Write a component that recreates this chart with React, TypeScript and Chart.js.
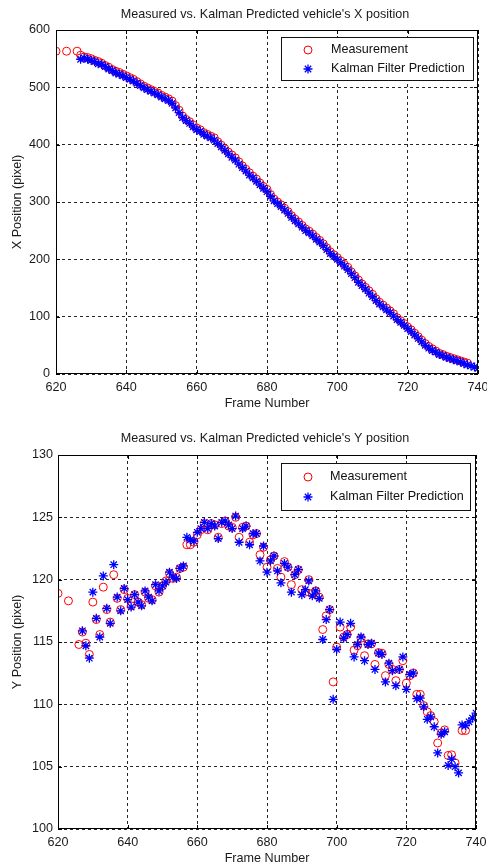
import React, { useEffect, useRef } from 'react';
import { Chart, registerables } from 'chart.js';
Chart.register(...registerables);

const FONT = '"Liberation Sans", Arial, Helvetica, sans-serif';
const FS = 12.6;

// Frame numbers (x axis)
const frames = [
  620, 623, 626,
  627, 628, 629, 630, 631, 632, 633, 634, 635, 636,
  637, 638, 639, 640, 641, 642, 643, 644, 645, 646,
  647, 648, 649, 650, 651, 652, 653, 654, 655, 656,
  657, 658, 659, 660, 661, 662, 663, 664, 665, 666,
  667, 668, 669, 670, 671, 672, 673, 674, 675, 676,
  677, 678, 679, 680, 681, 682, 683, 684, 685, 686,
  687, 688, 689, 690, 691, 692, 693, 694, 695, 696,
  697, 698, 699, 700, 701, 702, 703, 704, 705, 706,
  707, 708, 709, 710, 711, 712, 713, 714, 715, 716,
  717, 718, 719, 720, 721, 722, 723, 724, 725, 726,
  727, 728, 729, 730, 731, 732, 733, 734, 735, 736,
  737, 738, 739, 740,
];

// X position (pixel)
const measuredX = [
  563, 563, 563,
  556, 553, 552, 550, 547, 545, 542, 538, 535, 531,
  528, 526, 523, 520, 517, 514, 510, 506, 502, 499,
  496, 493, 490, 486, 483, 480, 476, 468, 460, 450,
  444, 440, 434, 429, 426, 421, 418, 415, 412, 405,
  399, 393, 387, 382, 377, 370, 363, 357, 351, 345,
  340, 333, 327, 322, 313, 305, 300, 295, 289, 283,
  276, 270, 265, 259, 253, 249, 244, 238, 233, 227,
  220, 213, 208, 203, 197, 191, 186, 178, 171, 164,
  157, 151, 145, 139, 131, 125, 120, 115, 110, 105,
  98, 93, 88, 82, 77, 71, 65, 59, 53, 48,
  44, 40, 36, 34, 31, 29, 27, 25, 23, 21,
  19, null, null, null,
];
const kalmanX = [
  null, null, null,
  549, 551, 549, 547, 545, 541, 540, 536, 532, 529,
  525, 523, 520, 517, 514, 511, 507, 503, 499, 496,
  493, 490, 487, 483, 480, 477, 472, 464, 456, 447,
  442, 437, 431, 426, 423, 418, 415, 412, 408, 402,
  396, 390, 384, 378, 373, 366, 360, 354, 347, 342,
  336, 330, 324, 318, 310, 302, 297, 292, 286, 280,
  273, 267, 262, 256, 250, 246, 241, 235, 230, 224,
  217, 210, 205, 200, 194, 188, 182, 175, 168, 160,
  154, 148, 141, 135, 128, 122, 117, 112, 107, 101,
  95, 90, 85, 79, 74, 68, 62, 56, 50, 45,
  41, 38, 34, 32, 29, 27, 25, 23, 21, 18,
  16, 14, 12, 10,
];

// Y position (pixel)
const measuredY = [
  118.9, 118.3, 114.8,
  115.8, 114.9, 114.0, 118.2, 116.8, 115.6, 119.4, 117.6, 116.6, 120.4,
  118.5, 117.6, 119.2, 118.5, 117.9, 118.8, 118.2, 118.0, 119.0, 118.5,
  118.4, 119.5, 119.0, 119.5, 119.9, 120.5, 120.1, 120.2, 120.9, 121.0,
  122.8, 122.8, 123.0, 123.6, 124.0, 124.5, 124.0, 124.5, 124.4, 123.4,
  124.5, 124.7, 124.3, 124.2, 125.0, 123.4, 124.2, 124.3, 123.0, 123.6,
  123.7, 122.0, 122.6, 121.0, 121.6, 121.9, 120.9, 120.2, 121.45, 121.0,
  119.6, 120.4, 120.8, 119.2, 119.0, 120.0, 118.9, 119.1, 118.6, 116.0,
  117.1, 117.6, 111.8, 114.6, 116.2, 115.4, 115.6, 116.2, 114.35, 114.7,
  115.3, 113.9, 114.85, 114.85, 113.2, 114.15, 114.1, 112.3, 113.2, 112.8,
  111.9, 112.8, 113.5, 111.7, 112.3, 112.5, 110.8, 110.8, 109.9, 109.4,
  109.1, 108.6, 106.9, 107.7, 107.95, 105.9, 105.95, 105.3, null, 107.9,
  107.9, null, null, null,
];
const kalmanY = [
  null, null, null,
  115.9, 114.7, 113.7, 119.0, 116.9, 115.4, 120.3, 117.7, 116.5, 121.2,
  118.6, 117.5, 119.3, 118.4, 117.8, 118.8, 118.2, 117.9, 119.1, 118.6,
  118.3, 119.6, 119.1, 119.5, 119.8, 120.6, 120.2, 120.1, 120.9, 121.1,
  123.4, 123.2, 123.1, 123.8, 124.1, 124.6, 124.1, 124.5, 124.3, 123.3,
  124.6, 124.7, 124.4, 124.1, 125.1, 123.0, 124.1, 124.3, 122.8, 123.7,
  123.7, 121.5, 122.7, 120.6, 121.5, 121.9, 120.7, 119.75, 121.3, 121.0,
  119.0, 120.4, 120.8, 118.8, 119.2, 119.9, 118.7, 119.1, 118.5, 115.2,
  116.8, 117.6, 110.4, 114.4, 116.6, 115.3, 115.6, 116.5, 113.8, 114.8,
  115.4, 113.5, 114.8, 114.9, 112.8, 114.1, 114.0, 111.8, 113.3, 112.7,
  111.5, 112.8, 113.8, 111.2, 112.4, 112.5, 110.45, 110.5, 109.8, 108.8,
  109.0, 108.2, 106.1, 107.6, 107.8, 105.1, 105.6, 105.0, 104.5, 108.35,
  108.3, 108.6, 108.9, 109.3,
];

const xMin = 620, xMax = 740, xStep = 20;
const legendLabels = ['Measurement', 'Kalman Filter Prediction'];
const xAxisLabel = 'Frame Number';

function toPoints(values: (number | null)[]) {
  const out: { x: number; y: number }[] = [];
  frames.forEach((f, i) => {
    const v = values[i];
    if (v !== null && v !== undefined) out.push({ x: f, y: v });
  });
  return out;
}

function drawStar(ctx: CanvasRenderingContext2D, x: number, y: number, r: number) {
  ctx.beginPath();
  ctx.moveTo(x - r, y); ctx.lineTo(x + r, y);
  ctx.moveTo(x, y - r); ctx.lineTo(x, y + r);
  const d = r * 0.7071;
  ctx.moveTo(x - d, y - d); ctx.lineTo(x + d, y + d);
  ctx.moveTo(x - d, y + d); ctx.lineTo(x + d, y - d);
  ctx.stroke();
}

type Cfg = {
  height: number;
  title: string;
  titleY: number;
  yLabel: string;
  yMin: number;
  yMax: number;
  yStep: number;
  meas: (number | null)[];
  kal: (number | null)[];
  padTop: number;
  padRight: number;
  yAxisWidth: number;
  xAxisHeight: number;
  xTitlePadBottom: number;
  xTickPad: number;
  yTickPad: number;
  legend: { dx: number; dy: number; w: number; h: number; r1: number; r2: number; mx: number; tx: number };
};

function MatlabChart({ cfg }: { cfg: Cfg }) {
  const ref = useRef<HTMLCanvasElement>(null);
  useEffect(() => {
    const canvas = ref.current!;
    const framePlugin = {
      id: 'mlFrame',
      afterDraw(chart: any) {
        const { ctx, chartArea: a } = chart;
        const xs = chart.scales.x, ys = chart.scales.y;
        ctx.save();
        ctx.strokeStyle = '#000';
        ctx.lineWidth = 1;
        ctx.beginPath();
        for (let v = xMin; v <= xMax; v += xStep) {
          const px = Math.round(xs.getPixelForValue(v)) + 0.5;
          ctx.moveTo(px, a.bottom); ctx.lineTo(px, a.bottom - 4);
          ctx.moveTo(px, a.top); ctx.lineTo(px, a.top + 4);
        }
        for (let v = cfg.yMin; v <= cfg.yMax; v += cfg.yStep) {
          const py = Math.round(ys.getPixelForValue(v)) + 0.5;
          ctx.moveTo(a.left, py); ctx.lineTo(a.left + 4, py);
          ctx.moveTo(a.right, py); ctx.lineTo(a.right - 4, py);
        }
        ctx.stroke();
        ctx.strokeRect(Math.round(a.left) + 0.5, Math.round(a.top) + 0.5,
          Math.round(a.right - a.left) - 1, Math.round(a.bottom - a.top) - 1);

        // title
        ctx.fillStyle = '#1a1a1a';
        ctx.font = `${FS}px ${FONT}`;
        ctx.textAlign = 'center';
        ctx.textBaseline = 'middle';
        ctx.fillText(cfg.title, (a.left + a.right) / 2 - 2, cfg.titleY);

        // legend
        const L = cfg.legend;
        const lx = Math.round(a.right - L.dx - L.w);
        const ly = Math.round(a.top + L.dy);
        ctx.fillStyle = '#fff';
        ctx.fillRect(lx, ly, L.w, L.h);
        ctx.strokeStyle = '#111';
        ctx.strokeRect(lx + 0.5, ly + 0.5, L.w, L.h);
        ctx.lineWidth = 1;
        ctx.strokeStyle = '#ff0000';
        ctx.beginPath();
        ctx.arc(lx + L.mx, ly + L.r1, 4, 0, Math.PI * 2);
        ctx.stroke();
        ctx.strokeStyle = '#0000ff';
        ctx.lineWidth = 1.3;
        drawStar(ctx, lx + L.mx, ly + L.r2, 4.5);
        ctx.fillStyle = '#111';
        ctx.textAlign = 'left';
        ctx.font = `${FS}px ${FONT}`;
        ctx.fillText(legendLabels[0], lx + L.tx, ly + L.r1);
        ctx.fillText(legendLabels[1], lx + L.tx, ly + L.r2);
        ctx.restore();
      },
    };

    const chart = new Chart(canvas, {
      type: 'scatter',
      data: {
        datasets: [
          {
            label: legendLabels[0],
            data: toPoints(cfg.meas),
            pointStyle: 'circle',
            pointRadius: 4,
            pointHoverRadius: 4,
            borderColor: '#ff0000',
            backgroundColor: 'rgba(0,0,0,0)',
            pointBorderWidth: 1,
            showLine: false,
            order: 2,
          },
          {
            label: legendLabels[1],
            data: toPoints(cfg.kal),
            pointStyle: 'star',
            pointRadius: 4.5,
            pointHoverRadius: 4.5,
            borderColor: '#0000ff',
            backgroundColor: '#0000ff',
            pointBorderWidth: 1.3,
            showLine: false,
            order: 1,
          },
        ],
      },
      options: {
        responsive: false,
        animation: false,
        events: [],
        layout: { padding: { top: cfg.padTop, right: cfg.padRight, left: 0, bottom: 0 } },
        plugins: {
          legend: { display: false },
          title: { display: false },
          tooltip: { enabled: false },
        },
        scales: {
          x: {
            type: 'linear',
            min: xMin,
            max: xMax,
            ticks: {
              stepSize: xStep,
              color: '#1a1a1a',
              font: { family: FONT, size: FS },
              padding: cfg.xTickPad,
              maxRotation: 0,
            },
            grid: { color: 'rgba(0,0,0,0.85)', lineWidth: 1, drawTicks: false },
            border: { display: false, dash: [3, 3] },
            title: {
              display: true,
              text: xAxisLabel,
              color: '#1a1a1a',
              font: { family: FONT, size: FS },
              padding: { top: 0, bottom: cfg.xTitlePadBottom },
            },
            afterFit(scale: any) {
              scale.height = cfg.xAxisHeight;
              scale.paddingLeft = 0;
              scale.paddingRight = 0;
            },
          },
          y: {
            type: 'linear',
            min: cfg.yMin,
            max: cfg.yMax,
            ticks: {
              stepSize: cfg.yStep,
              color: '#1a1a1a',
              font: { family: FONT, size: FS },
              padding: cfg.yTickPad,
            },
            grid: { color: 'rgba(0,0,0,0.85)', lineWidth: 1, drawTicks: false },
            border: { display: false, dash: [3, 3] },
            title: {
              display: true,
              text: cfg.yLabel,
              color: '#1a1a1a',
              font: { family: FONT, size: FS },
              padding: { top: 10, bottom: 0 },
            },
            afterFit(scale: any) {
              scale.width = cfg.yAxisWidth;
              scale.paddingTop = 0;
              scale.paddingBottom = 0;
            },
          },
        },
      },
      plugins: [framePlugin],
    } as any);
    return () => chart.destroy();
  }, []);
  return (
    <canvas
      ref={ref}
      width={487}
      height={cfg.height}
      style={{ display: 'block', width: 487, height: cfg.height }}
    />
  );
}

const topCfg: Cfg = {
  height: 415,
  title: "Measured vs. Kalman Predicted vehicle's X position",
  titleY: 15,
  yLabel: 'X Position (pixel)',
  yMin: 0,
  yMax: 600,
  yStep: 100,
  meas: measuredX,
  kal: kalmanX,
  padTop: 30,
  padRight: 9,
  yAxisWidth: 56,
  xAxisHeight: 41,
  xTitlePadBottom: 4,
  xTickPad: 6,
  yTickPad: 6,
  legend: { dx: 5, dy: 7, w: 192, h: 43, r1: 13, r2: 32, mx: 27, tx: 50 },
};

const bottomCfg: Cfg = {
  height: 449,
  title: "Measured vs. Kalman Predicted vehicle's Y position",
  titleY: 21,
  yLabel: 'Y Position (pixel)',
  yMin: 100,
  yMax: 130,
  yStep: 5,
  meas: measuredY,
  kal: kalmanY,
  padTop: 37,
  padRight: 11,
  yAxisWidth: 58,
  xAxisHeight: 38,
  xTitlePadBottom: 1,
  xTickPad: 6,
  yTickPad: 5,
  legend: { dx: 6, dy: 8, w: 189, h: 47, r1: 14, r2: 34, mx: 27, tx: 49 },
};

export default function App() {
  return (
    <div style={{ position: 'absolute', left: 0, top: 0, width: 487, height: 867, background: '#fff' }}>
      <MatlabChart cfg={topCfg} />
      <div style={{ height: 3 }} />
      <MatlabChart cfg={bottomCfg} />
    </div>
  );
}
